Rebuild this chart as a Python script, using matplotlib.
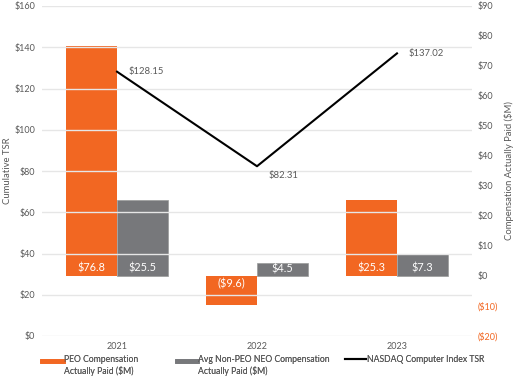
import matplotlib
matplotlib.use("Agg")
import matplotlib.pyplot as plt
import numpy as np
from matplotlib.lines import Line2D
from matplotlib.legend_handler import HandlerLine2D

plt.rcParams['font.family'] = ['Lato', 'DejaVu Sans']

# data
years = ['2021', '2022', '2023']
peo_cap = [76.8, -9.6, 25.3]
neo_cap = [25.5, 4.5, 7.3]
nasdaq_tsr = [128.15, 82.31, 137.02]

orange = '#F26722'
gray = '#77787B'
txt = '#595959'

def money(v, dec=1):
    s = f"${abs(v):,.{dec}f}"
    return f"({s})" if v < 0 else s

fig = plt.figure(figsize=(5.16, 3.77), dpi=100)
ax = fig.add_axes([42/516, 41/377, 430/516, 330/377])  # TSR axis (left)
ax2 = ax.twinx()  # compensation axis (right)

x = np.arange(len(years))
w = 0.364

# bars on right axis
b1 = ax2.bar(x - w/2, peo_cap, w, color=orange, zorder=2)
b2 = ax2.bar(x + w/2, neo_cap, w, color=gray, edgecolor='#9a9a9a', linewidth=0.5, zorder=2)

for bars, vals in [(b1, peo_cap), (b2, neo_cap)]:
    for rect, v in zip(bars, vals):
        cx = rect.get_x() + rect.get_width()/2
        if abs(v) < 6:
            ypos = v/2
        elif v >= 0:
            ypos = 2.7
        else:
            ypos = -2.7
        ax2.text(cx, ypos, money(v), color='white', ha='center', va='center', fontsize=7.8, zorder=3)

# line on left axis, drawn above bars
ax.set_zorder(ax2.get_zorder() + 1)
ax.patch.set_visible(False)
ax.plot(x, nasdaq_tsr, color='black', lw=1.5, zorder=4)
offsets = [(8.5, 0), (8.5, -7), (8.5, 0)]
for xi, v, (dx, dy) in zip(x, nasdaq_tsr, offsets):
    ax.annotate(money(v, 2), (xi, v), xytext=(dx, dy), textcoords='offset points',
                ha='left', va='center', color=txt, fontsize=6.8)

# axes limits and ticks
ax.set_xlim(-0.536, 2.536)
ax.set_ylim(0, 160)
lt = np.arange(0, 161, 20)
ax.set_yticks(lt)
ax.set_yticklabels([f"${int(t)}" for t in lt])
ax2.set_ylim(-20, 90)
rt = np.arange(-20, 91, 10)
ax2.set_yticks(rt)
ax2.set_yticklabels([money(t, 0) for t in rt])

ax.set_xticks(x)
ax.set_xticklabels(years)
ax.grid(axis='y', color='#e6e6e6', lw=1.0, zorder=0)
ax.set_axisbelow(True)

for a in (ax, ax2):
    for s in a.spines.values():
        s.set_visible(False)
    a.tick_params(length=0, labelsize=6.5, colors=txt)
ax.tick_params(axis='y', pad=5)
ax.tick_params(axis='x', pad=4)
ax2.tick_params(axis='y', pad=4)
for lab, t in zip(ax2.get_yticklabels(), rt):
    lab.set_color(orange if t < 0 else txt)

ax.set_ylabel('Cumulative TSR', color=txt, fontsize=6.8)
ax.yaxis.set_label_coords(-30/430, 0.5)
ax2.set_ylabel('Compensation Actually Paid ($M)', color=txt, fontsize=6.8)
ax2.yaxis.set_label_coords(1 + 462/430 - 1 + 0.0, 0.5)


class UpHandler(HandlerLine2D):
    # put the legend key next to the first line of a two-line label
    def create_artists(self, legend, orig_handle, xdescent, ydescent, width, height, fontsize, trans):
        arts = super().create_artists(legend, orig_handle, xdescent, ydescent, width, height, fontsize, trans)
        for a in arts:
            a.set_ydata(np.asarray(a.get_ydata()) + 0.6 * fontsize)
        return arts


entries = [
    (Line2D([], [], color=orange, lw=3.4), 'PEO Compensation\nActually Paid ($M)', 42, 2.4, True),
    (Line2D([], [], color=gray, lw=3.4), 'Avg Non-PEO NEO Compensation\nActually Paid ($M)', 177, 2.3, True),
    (Line2D([], [], color='black', lw=1.5), 'NASDAQ Computer Index TSR', 345, 2.4, False),
]
for h, lab, px, hl, two in entries:
    kw = {'handler_map': {h: UpHandler()}} if two else {}
    leg = fig.legend([h], [lab], loc='upper left', bbox_to_anchor=(px/516, 1 - 355/377),
                     frameon=False, fontsize=6.2, handlelength=hl, handletextpad=0.15,
                     labelcolor=txt, borderpad=0, borderaxespad=0, **kw)
    fig.add_artist(leg)

fig.savefig('out.png', dpi=100)
